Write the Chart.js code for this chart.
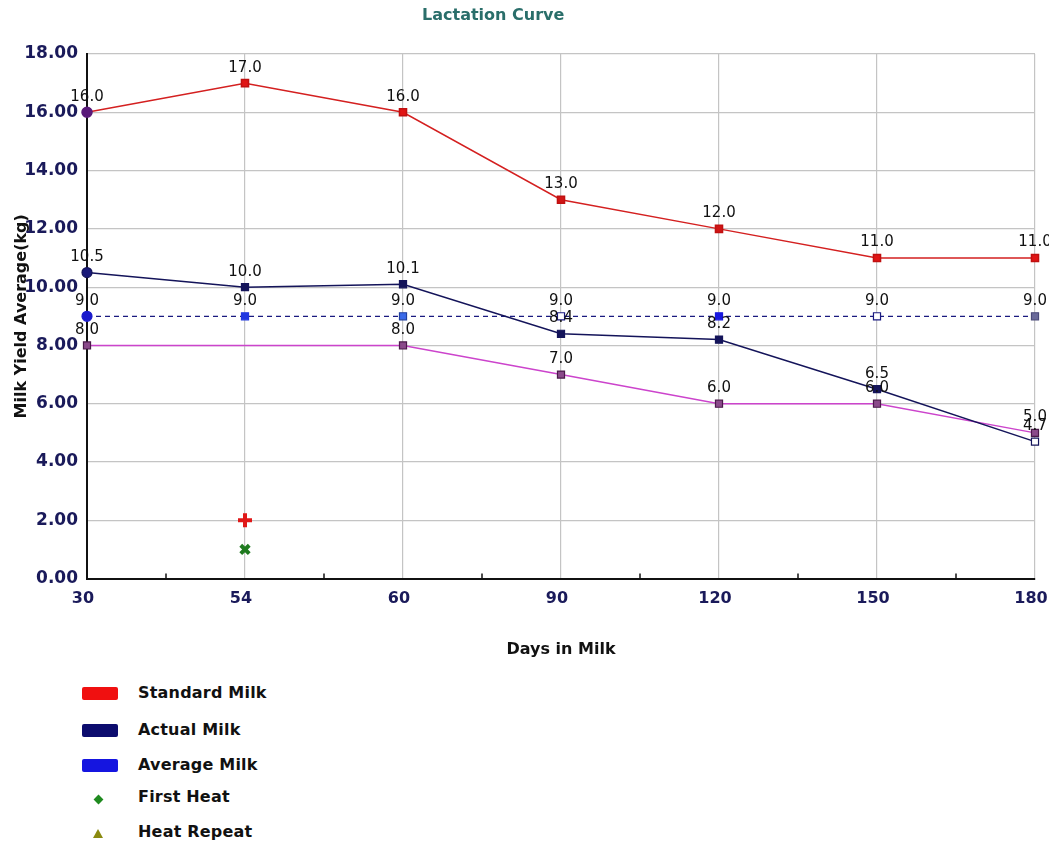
<!DOCTYPE html>
<html>
<head>
<meta charset="utf-8">
<title>Lactation Curve</title>
<script src="https://cdn.jsdelivr.net/npm/chart.js@4.4.1/dist/chart.umd.min.js"></script>
<style>
  html, body { margin: 0; padding: 0; background: #fff; }
  #wrap { position: relative; width: 1049px; height: 842px; font-family: "DejaVu Sans", sans-serif; }
  #chartTitle { position: absolute; left: 422px; top: 5px; font: bold 16px "DejaVu Sans", sans-serif; color: #2a6e6a; }
  #legend { position: absolute; left: 0; top: 676px; }
  .lg { position: absolute; height: 20px; white-space: nowrap; }
  .lg span { position: absolute; left: 138px; top: -1px; font: bold 16px "DejaVu Sans", sans-serif; color: #111; letter-spacing: 0.2px; }
  .sw { position: absolute; left: 82px; top: 3px; width: 36px; height: 13px; border-radius: 2px; }
</style>
</head>
<body>
<div id="wrap">
  <canvas id="lactChart" width="1049" height="660"></canvas>
  <div id="chartTitle">Lactation Curve</div>
  <div id="legend"></div>
</div>
<script>
// Lactation curve data
const days = ['30', '54', '60', '90', '120', '150', '180'];
const standardMilk = [16.0, 17.0, 16.0, 13.0, 12.0, 11.0, 11.0];
const actualMilk = [10.5, 10.0, 10.1, 8.4, 8.2, 6.5, 4.7];
const averageMilk = [9.0, 9.0, 9.0, 9.0, 9.0, 9.0, 9.0];
const herdMilk = [8.0, null, 8.0, 7.0, 6.0, 6.0, 5.0];
const eventPlus = [null, 2.0, null, null, null, null, null];
const eventCross = [null, 1.0, null, null, null, null, null];
const yTicks = [0, 2, 4, 6, 8, 10, 12, 14, 16, 18];

const legendItems = [
    { label: 'Standard Milk', kind: 'bar', color: '#f01010' },
    { label: 'Actual Milk', kind: 'bar', color: '#0c0c6e' },
    { label: 'Average Milk', kind: 'bar', color: '#1515e0' },
    { label: 'First Heat', kind: 'diamond', color: '#1f8a1f' },
    { label: 'Heat Repeat', kind: 'triangle', color: '#8a8a10' }
];
const legendRows = [8, 45, 80, 112, 147];

// values written above points
const valueLabels = {
    id: 'valueLabels',
    afterDatasetsDraw(chart) {
        const ctx = chart.ctx;
        ctx.save();
        ctx.font = '15px "DejaVu Sans", sans-serif';
        ctx.fillStyle = '#111';
        ctx.textAlign = 'center';
        ctx.textBaseline = 'bottom';
        chart.data.datasets.forEach((ds, i) => {
            if (!ds.showValues) return;
            chart.getDatasetMeta(i).data.forEach((pt, j) => {
                const v = ds.data[j];
                if (v == null) return;
                ctx.fillText(v.toFixed(1), pt.x, pt.y - 8);
            });
        });
        ctx.restore();
    }
};

// small ticks between categories on the bottom axis
const minorTicks = {
    id: 'minorTicks',
    afterDraw(chart) {
        const x = chart.scales.x, ctx = chart.ctx;
        const bottom = chart.chartArea.bottom;
        ctx.save();
        ctx.strokeStyle = '#111';
        ctx.lineWidth = 1.5;
        for (let i = 0; i < days.length - 1; i++) {
            const mx = (x.getPixelForValue(i) + x.getPixelForValue(i + 1)) / 2;
            ctx.beginPath();
            ctx.moveTo(mx, bottom);
            ctx.lineTo(mx, bottom - 5);
            ctx.stroke();
        }
        ctx.restore();
    }
};

const sq = 'rect';

new Chart(document.getElementById('lactChart'), {
    type: 'line',
    data: {
        labels: days,
        datasets: [
            {
                label: 'Standard Milk',
                data: standardMilk,
                borderColor: '#d42020',
                borderWidth: 1.5,
                pointStyle: ['circle', sq, sq, sq, sq, sq, sq],
                pointBackgroundColor: ['#5a1a7a', '#e01515', '#e01515', '#d01515', '#d01515', '#e01515', '#e01515'],
                pointBorderColor: ['#5a1a7a', '#c01010', '#c01010', '#c01010', '#c01010', '#c01010', '#c01010'],
                pointRadius: 5,
                showValues: true
            },
            {
                label: 'Actual Milk',
                data: actualMilk,
                borderColor: '#14145a',
                borderWidth: 1.5,
                pointStyle: ['circle', sq, sq, sq, sq, sq, sq],
                pointBackgroundColor: ['#1a1a7a', '#14145a', '#14145a', '#14145a', '#14145a', '#14145a', '#ffffff'],
                pointBorderColor: '#14145a',
                pointBorderWidth: 1.2,
                pointRadius: 5,
                showValues: true
            },
            {
                label: 'Average Milk',
                data: averageMilk,
                borderColor: '#1a1a80',
                borderWidth: 1.3,
                borderDash: [5, 4],
                pointStyle: ['circle', sq, sq, sq, sq, sq, sq],
                pointBackgroundColor: ['#1a1acc', '#2038e0', '#3a6ae8', '#ffffff', '#1818e0', '#ffffff', '#6a6a9a'],
                pointBorderColor: ['#1a1acc', '#2038e0', '#2040a0', '#1a1a80', '#1818e0', '#1a1a80', '#4a4a7a'],
                pointBorderWidth: 1.2,
                pointRadius: 5,
                showValues: true
            },
            {
                label: 'Herd Milk',
                data: herdMilk,
                spanGaps: true,
                borderColor: '#cc44cc',
                borderWidth: 1.5,
                pointStyle: sq,
                pointBackgroundColor: '#8a4a8a',
                pointBorderColor: '#4a1a4a',
                pointBorderWidth: 1.2,
                pointRadius: 5,
                showValues: true
            },
            {
                label: 'Event +',
                data: eventPlus,
                showLine: false,
                pointStyle: 'cross',
                borderColor: '#e01818',
                pointBorderColor: '#e01818',
                pointBorderWidth: 4,
                pointRadius: 7
            },
            {
                label: 'Event x',
                data: eventCross,
                showLine: false,
                pointStyle: 'crossRot',
                borderColor: '#1f7a1f',
                pointBorderColor: '#1f7a1f',
                pointBorderWidth: 4,
                pointRadius: 6
            }
        ]
    },
    options: {
        responsive: false,
        animation: false,
        layout: { padding: { top: 54, right: 14, left: 0, bottom: 0 } },
        plugins: {
            legend: { display: false },
            tooltip: { enabled: false }
        },
        scales: {
            x: {
                type: 'category',
                offset: false,
                afterFit: s => { s.paddingRight = 0; s.paddingLeft = 0; },
                grid: { color: '#c4c4c4', lineWidth: 1.2, drawTicks: false },
                border: { color: '#111', width: 2 },
                ticks: {
                    color: '#1a1a5a',
                    font: { family: 'DejaVu Sans', size: 16, weight: 'bold' },
                    padding: 11,
                    labelOffset: -4,
                    maxRotation: 0
                },
                title: {
                    display: true,
                    text: 'Days in Milk',
                    color: '#111',
                    font: { family: 'DejaVu Sans', size: 16, weight: 'bold' },
                    padding: { top: 20, bottom: 1 }
                }
            },
            y: {
                min: yTicks[0],
                max: yTicks[yTicks.length - 1],
                afterBuildTicks: s => { s.ticks = yTicks.map(v => ({ value: v })); },
                afterFit: s => { s.width = 87; },
                grid: { color: '#c4c4c4', lineWidth: 1.2, drawTicks: false },
                border: { color: '#111', width: 2 },
                ticks: {
                    color: '#1a1a5a',
                    font: { family: 'DejaVu Sans', size: 17, weight: 'bold' },
                    padding: 9,
                    callback: v => v.toFixed(2)
                },
                title: {
                    display: true,
                    text: 'Milk Yield Average(kg)',
                    color: '#111',
                    font: { family: 'DejaVu Sans', size: 16, weight: 'bold' },
                    padding: { top: 12, bottom: 0 }
                }
            }
        }
    },
    plugins: [valueLabels, minorTicks]
});

// legend below the chart
const legendEl = document.getElementById('legend');
legendItems.forEach((item, i) => {
    const row = document.createElement('div');
    row.className = 'lg';
    row.style.top = legendRows[i] + 'px';
    let mark = '';
    if (item.kind === 'bar') {
        mark = `<div class="sw" style="background:${item.color}"></div>`;
    } else if (item.kind === 'diamond') {
        mark = `<div style="position:absolute;left:95px;top:8px;width:7px;height:7px;background:${item.color};transform:rotate(45deg)"></div>`;
    } else {
        mark = `<div style="position:absolute;left:93px;top:6px;width:0;height:0;border-left:5px solid transparent;border-right:5px solid transparent;border-bottom:9px solid ${item.color}"></div>`;
    }
    row.innerHTML = mark + `<span>${item.label}</span>`;
    legendEl.appendChild(row);
});
</script>
</body>
</html>
